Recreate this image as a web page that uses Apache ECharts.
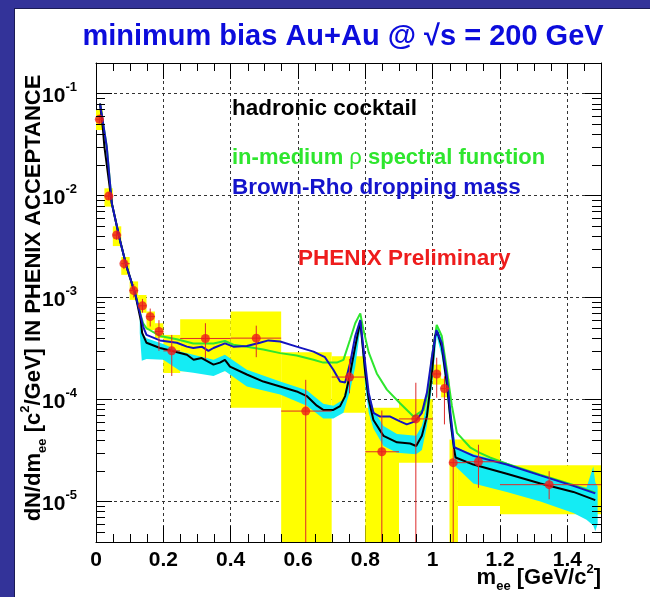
<!DOCTYPE html>
<html><head><meta charset="utf-8">
<script src="https://cdn.jsdelivr.net/npm/echarts@6/dist/echarts.min.js"></script>
<style>html,body{margin:0;padding:0;background:#fff}#c{width:650px;height:597px}</style>
</head><body><div id="c"></div><script>
// ---------------- data ----------------
const xMin = 0, xMax = 1.5, yMin = 4e-6, yMax = 0.2;

// PHENIX data points
const ptX = [0.010,0.038,0.061,0.083,0.112,0.138,0.161,0.187,0.225,0.325,0.476,0.623,0.753,0.849,0.950,1.012,1.035,1.061,1.136,1.346];
const ptY = [0.056,0.0099,0.0041,0.00215,0.00117,0.00083,0.00065,0.000465,0.00030,0.000397,0.00040,7.7e-5,1.66e-4,3.07e-5,6.45e-5,1.78e-4,1.28e-4,2.4e-5,2.45e-5,1.46e-5];
const errYLo = [0.051,0.0091,0.0037,0.0019,0.00100,0.00071,0.00052,0.00030,0.00017,0.00025,0.00026,1e-6,1.15e-4,1e-6,1e-6,1.04e-4,5.7e-5,1e-6,1.36e-5,1.05e-5];
const errYHi = [0.062,0.0108,0.0045,0.0024,0.00135,0.00097,0.00078,0.00060,0.00043,0.00056,0.00053,1.56e-4,2.5e-4,7.8e-5,1.46e-4,2.57e-4,1.69e-4,3.3e-5,3.6e-5,1.98e-5];
const binLo = [0.0,0.025,0.05,0.075,0.1,0.125,0.15,0.175,0.2,0.25,0.4,0.55,0.7,0.8,0.9,1.0,1.025,1.05,1.1,1.2];
const binHi = [0.02,0.05,0.075,0.1,0.125,0.15,0.175,0.2,0.25,0.4,0.55,0.7,0.8,0.9,1.0,1.025,1.05,1.1,1.2,1.5];

// systematic error boxes (yellow)
const sysXLo = [0.0,0.025,0.05,0.075,0.1,0.125,0.15,0.175,0.2,0.25,0.4,0.55,0.7,0.8,0.9,1.0,1.025,1.05,1.075,1.2];
const sysXHi = [0.02,0.05,0.075,0.1,0.125,0.15,0.175,0.2,0.25,0.4,0.55,0.7,0.8,0.9,1.0,1.025,1.05,1.075,1.2,1.5];
const sysYLo = [0.044,0.0078,0.0032,0.00167,0.00095,0.00071,0.00048,0.00040,0.000182,0.000189,8.3e-5,1e-6,7.4e-5,1e-6,2.4e-5,1.4e-4,1.05e-4,1e-6,9e-6,7.5e-6];
const sysYHi = [0.069,0.0118,0.0050,0.0025,0.00144,0.00106,0.00073,0.00056,0.00043,0.000612,0.00073,0.00029,0.000265,8.3e-5,1.01e-4,2.2e-4,1.6e-4,4.05e-5,4.05e-5,2.27e-5];

// hadronic cocktail (black)
const cockX = [0.012,0.02,0.025,0.047,0.071,0.091,0.116,0.133,0.137,0.15,0.19,0.23,0.27,0.29,0.314,0.349,0.368,0.383,0.398,0.448,0.497,0.547,0.596,0.626,0.656,0.675,0.705,0.725,0.74,0.755,0.77,0.785,0.8,0.81,0.824,0.854,0.894,0.933,0.951,0.968,0.983,0.998,1.007,1.014,1.027,1.042,1.054,1.064,1.068,1.121,1.22,1.32,1.418,1.483];
const cockY = [0.08,0.047,0.03,0.0084,0.00367,0.002,0.0011,0.0006,0.00045,0.00036,0.00032,0.000297,0.000275,0.000245,0.000255,0.00022,0.00023,0.000245,0.00021,0.000176,0.00015,0.000134,0.00012,0.000108,8.7e-5,7.9e-5,7.9e-5,8.6e-5,1.08e-4,1.8e-4,3.3e-4,5.8e-4,1.8e-4,1.0e-4,6.3e-5,4.4e-5,3.8e-5,3.7e-5,3.5e-5,4.4e-5,6.9e-5,1.8e-4,4.2e-4,4.6e-4,3.3e-4,1.45e-4,5.8e-5,3.2e-5,2.7e-5,2.3e-5,1.87e-5,1.5e-5,1.24e-5,1.03e-5];

// cocktail systematic band (cyan)
const bandX  = [0.13,0.136,0.15,0.2,0.25,0.289,0.349,0.383,0.448,0.547,0.626,0.675,0.705,0.735,0.755,0.77,0.785,0.8,0.81,0.824,0.854,0.894,0.951,0.968,0.983,0.998,1.012,1.027,1.042,1.054,1.064,1.068,1.121,1.22,1.32,1.418,1.457,1.477,1.483,1.49];
const bandHi = [6.5e-4,4.5e-4,4.0e-4,3.5e-4,2.95e-4,2.75e-4,2.45e-4,2.75e-4,1.96e-4,1.5e-4,1.23e-4,9.1e-5,8.7e-5,1.0e-4,2.1e-4,3.9e-4,6.5e-4,2.1e-4,1.23e-4,7.9e-5,5.5e-5,4.6e-5,4.4e-5,5.5e-5,9.1e-5,2.45e-4,5.2e-4,3.9e-4,1.8e-4,7.4e-5,4.4e-5,3.4e-5,2.9e-5,2.4e-5,1.8e-5,1.47e-5,1.37e-5,2.2e-5,1.54e-5,1.4e-5];
const bandLo = [4.5e-4,2.4e-4,2.5e-4,2.45e-4,1.9e-4,1.83e-4,1.7e-4,1.9e-4,1.34e-4,1.12e-4,8.7e-5,6.5e-5,6.5e-5,7.4e-5,1.23e-4,2.1e-4,4.9e-4,1.34e-4,7.4e-5,5.2e-5,3.5e-5,3.0e-5,2.9e-5,3.2e-5,5.5e-5,1.34e-4,4.2e-4,2.65e-4,1.17e-4,4.7e-5,2.6e-5,2.2e-5,1.5e-5,1.24e-5,1.0e-5,7.7e-6,6.6e-6,5.8e-6,5.1e-6,6e-6];

// Brown-Rho dropping mass (blue)
const brX = [0.012,0.032,0.047,0.071,0.091,0.116,0.131,0.14,0.15,0.19,0.24,0.27,0.289,0.314,0.334,0.349,0.383,0.408,0.448,0.487,0.512,0.547,0.596,0.646,0.68,0.705,0.725,0.74,0.755,0.77,0.785,0.8,0.81,0.824,0.844,0.874,0.903,0.923,0.948,0.968,0.983,0.998,1.011,1.027,1.042,1.054,1.064,1.082,1.121,1.22,1.32,1.418,1.483];
const brY = [0.08,0.03,0.0084,0.00367,0.002,0.0011,0.0007,0.00052,0.00043,0.00038,0.00036,0.00033,0.00032,0.00033,0.0003,0.00032,0.000355,0.00033,0.000335,0.00036,0.00038,0.00037,0.00033,0.000295,0.00026,0.000196,0.00015,0.000147,0.00023,0.00042,0.0006,0.00022,0.000116,7.4e-5,6.8e-5,6.8e-5,6.1e-5,5.7e-5,6.1e-5,7.4e-5,1.17e-4,2.65e-4,4.8e-4,3.6e-4,1.7e-4,6.8e-5,3.4e-5,3.2e-5,2.8e-5,2.3e-5,1.8e-5,1.42e-5,1.2e-5];

// in-medium rho spectral function (green)
const rhoX = [0.012,0.032,0.047,0.071,0.091,0.116,0.131,0.14,0.15,0.19,0.24,0.289,0.349,0.383,0.408,0.448,0.497,0.547,0.596,0.646,0.675,0.715,0.735,0.755,0.77,0.785,0.794,0.81,0.834,0.864,0.903,0.943,0.973,0.988,0.998,1.012,1.027,1.042,1.057,1.072,1.111,1.14,1.17,1.22,1.32,1.418,1.483];
const rhoY = [0.08,0.03,0.0084,0.00367,0.002,0.0011,0.0007,0.00056,0.0005,0.00042,0.00039,0.000355,0.000355,0.000375,0.000345,0.00033,0.00031,0.000285,0.00027,0.000245,0.00023,0.00023,0.000245,0.00039,0.00056,0.0007,0.00049,0.00029,0.00018,0.000125,9.2e-5,6.8e-5,7.9e-5,1.25e-4,2.65e-4,5.4e-4,4.2e-4,1.96e-4,8.7e-5,4.7e-5,3.4e-5,3.0e-5,2.7e-5,2.35e-5,1.83e-5,1.45e-5,1.22e-5];

const xMajorStep = 0.2;

// ---------------- chart ----------------
const FONT = '"Liberation Sans", Arial, Helvetica, sans-serif';
const zip = (a, b) => a.map((v, i) => [v, b[i]]);

const minorX = [];
for (let i = 1; i < 30; i++) if (i % 4 !== 0) minorX.push(i * 0.05);
const minorY = [];
for (let n = -6; n <= -1; n++) for (let k = 2; k <= 9; k++) { const v = k * Math.pow(10, n); if (v > yMin && v < yMax) minorY.push(v); }

const chart = echarts.init(document.getElementById('c'), null, {renderer: 'canvas'});

function ln(x1, y1, x2, y2, color, w) {
  return {type: 'line', shape: {x1, y1, x2, y2}, style: {stroke: color || '#000', lineWidth: w || 1}};
}

const yLabelRich = {
  b: {fontSize: 21, fontWeight: 'bold', fontFamily: FONT, color: '#000', lineHeight: 26, verticalAlign: 'bottom'},
  s: {fontSize: 13, fontWeight: 'bold', fontFamily: FONT, color: '#000', verticalAlign: 'top', lineHeight: 14}
};

const axisCommon = {
  axisLine: {show: true, onZero: false, lineStyle: {color: '#000', width: 1}},
  axisTick: {show: true, inside: true, length: 16, lineStyle: {color: '#000', width: 1}},
  minorTick: {show: false}
};

const titleRich = (color) => ({
  b: {fontSize: 22, fontWeight: 'bold', fontFamily: FONT, fill: color, color: color, lineHeight: 30, verticalAlign: 'middle'},
  sub: {fontSize: 13, fontWeight: 'bold', fontFamily: FONT, fill: color, color: color, lineHeight: 13, verticalAlign: 'bottom'},
  sup: {fontSize: 13, fontWeight: 'bold', fontFamily: FONT, fill: color, color: color, lineHeight: 13, verticalAlign: 'top'},
  g: {fontSize: 22, fontWeight: 'normal', fontFamily: FONT, fill: color, color: color, lineHeight: 30, verticalAlign: 'middle'}
});

const option = {
  animation: false,
  backgroundColor: '#ffffff',
  grid: {left: 96, top: 63, right: 49, bottom: 55, containLabel: false},
  xAxis: [
    Object.assign({}, axisCommon, {
      type: 'value', min: xMin, max: xMax, interval: xMajorStep, position: 'bottom',
      axisLabel: {show: true, showMaxLabel: false, margin: 8, color: '#000', fontSize: 21, fontWeight: 'bold', fontFamily: FONT},
      splitLine: {show: true, lineStyle: {color: '#333', type: [3, 3], width: 1}}
    }),
    Object.assign({}, axisCommon, {
      type: 'value', min: xMin, max: xMax, interval: xMajorStep, position: 'top',
      axisLabel: {show: false}, splitLine: {show: false}
    })
  ],
  yAxis: [
    Object.assign({}, axisCommon, {
      type: 'log', min: yMin, max: yMax, position: 'left',
      axisLabel: {show: true, showMinLabel: false, showMaxLabel: false, margin: 19,
        formatter: v => { const e = Math.round(Math.log10(v)); return '{b|10}{s|' + e + '}'; },
        rich: yLabelRich},
      splitLine: {show: true, lineStyle: {color: '#333', type: [3, 3], width: 1}}
    }),
    Object.assign({}, axisCommon, {
      type: 'log', min: yMin, max: yMax, position: 'right',
      axisLabel: {show: false}, splitLine: {show: false}
    })
  ],
  graphic: [
    {type: 'rect', shape: {x: 0, y: 0, width: 15, height: 597}, style: {fill: '#333399'}, z: 100},
    {type: 'rect', shape: {x: 0, y: 0, width: 650, height: 9}, style: {fill: '#333399'}, z: 100},
    {type: 'line', shape: {x1: 14.5, y1: 9, x2: 14.5, y2: 597}, style: {stroke: '#1b1b55', lineWidth: 1}, z: 101},
    {type: 'line', shape: {x1: 14, y1: 8.5, x2: 650, y2: 8.5}, style: {stroke: '#1b1b55', lineWidth: 1}, z: 101},
    {type: 'text', x: 343, y: 37, z: 100, style: {text: 'minimum bias Au+Au @ √s = 200 GeV', fill: '#0c0cdc', font: 'bold 29px ' + FONT, align: 'center', verticalAlign: 'middle'}},
    {type: 'text', x: 232, y: 109, z: 100, style: {text: 'hadronic cocktail', fill: '#000000', font: 'bold 22.5px ' + FONT, align: 'left', verticalAlign: 'middle'}},
    {type: 'text', x: 232, y: 158, z: 100, style: {text: '{b|in-medium }{g|ρ}{b| spectral function}', align: 'left', verticalAlign: 'middle', rich: titleRich('#2ee62e')}},
    {type: 'text', x: 232, y: 188, z: 100, style: {text: 'Brown-Rho dropping mass', fill: '#1414cc', font: 'bold 22.5px ' + FONT, align: 'left', verticalAlign: 'middle'}},
    {type: 'text', x: 298, y: 259, z: 100, style: {text: 'PHENIX Preliminary', fill: '#ee1c1c', font: 'bold 22.5px ' + FONT, align: 'left', verticalAlign: 'middle'}},
    {type: 'text', x: 601, y: 578, z: 100, style: {
      text: '{b|m}{sub|ee}{b| [GeV/c}{sup|2}{b|]}', align: 'right', verticalAlign: 'middle', rich: titleRich('#000')}},
    {type: 'text', x: 34, y: 298, rotation: Math.PI / 2, z: 100, style: {
      text: '{b|dN/dm}{sub|ee}{b| [c}{sup|2}{b|/GeV] IN PHENIX ACCEPTANCE}', align: 'center', verticalAlign: 'middle', rich: titleRich('#000')}}
  ],
  series: [
    { // yellow systematic boxes
      type: 'custom', coordinateSystem: 'cartesian2d', clip: true, z: 1, silent: true,
      data: sysXLo.map((v, i) => [v, sysXHi[i], sysYLo[i], sysYHi[i]]),
      encode: {x: [0, 1], y: [2, 3]},
      renderItem: (params, api) => {
        const p1 = api.coord([api.value(0), api.value(3)]);
        const p2 = api.coord([api.value(1), api.value(2)]);
        return {type: 'rect', shape: {x: p1[0], y: p1[1], width: p2[0] - p1[0], height: p2[1] - p1[1]}, style: {fill: '#ffff00'}};
      }
    },
    { // cyan band
      type: 'custom', coordinateSystem: 'cartesian2d', clip: true, z: 2, silent: true,
      data: [[bandX[0], bandHi[0]]],
      renderItem: (params, api) => {
        const pts = [];
        bandX.forEach((x, i) => pts.push(api.coord([x, bandHi[i]])));
        for (let i = bandX.length - 1; i >= 0; i--) pts.push(api.coord([bandX[i], bandLo[i]]));
        return {type: 'polygon', shape: {points: pts}, style: {fill: '#14ecf4'}};
      }
    },
    {type: 'line', name: 'in-medium rho', data: zip(rhoX, rhoY), symbol: 'none', z: 3, clip: true, lineStyle: {color: '#2ee62e', width: 2}},
    {type: 'line', name: 'cocktail', data: zip(cockX, cockY), symbol: 'none', z: 4, clip: true, lineStyle: {color: '#000000', width: 2}},
    {type: 'line', name: 'Brown-Rho', data: zip(brX, brY), symbol: 'none', z: 5, clip: true, lineStyle: {color: '#1414c0', width: 2}},
    { // error bars
      type: 'custom', coordinateSystem: 'cartesian2d', clip: true, z: 6, silent: true,
      data: ptX.map((v, i) => [v, ptY[i], binLo[i], binHi[i], errYLo[i], errYHi[i]]),
      encode: {x: 0, y: 1},
      renderItem: (params, api) => {
        const x = api.value(0), y = api.value(1);
        const a = api.coord([x, api.value(4)]), b = api.coord([x, api.value(5)]);
        const c = api.coord([api.value(2), y]), d = api.coord([api.value(3), y]);
        return {type: 'group', children: [
          ln(a[0], a[1], b[0], b[1], '#dd2a2a', 1),
          ln(c[0], c[1], d[0], d[1], '#dd2a2a', 1)
        ]};
      }
    },
    {type: 'scatter', name: 'PHENIX', data: zip(ptX, ptY), symbol: 'circle', symbolSize: 9, z: 7, itemStyle: {color: '#ee1c1c'}},
    { // minor ticks on the frame
      type: 'custom', coordinateSystem: 'cartesian2d', clip: false, z: 8, silent: true,
      data: [[xMin, yMin]],
      renderItem: (params, api) => {
        const ch = [];
        const yb = Math.round(api.coord([xMin, yMin])[1]);
        const yt = Math.round(api.coord([xMin, yMax])[1]);
        const xl = Math.round(api.coord([xMin, yMin])[0]);
        const xr = Math.round(api.coord([xMax, yMin])[0]);
        minorX.forEach(x => {
          const px = Math.round(api.coord([x, yMin])[0]) + 0.5;
          ch.push(ln(px, yb, px, yb - 8));
          ch.push(ln(px, yt, px, yt + 8));
        });
        minorY.forEach(y => {
          const py = Math.round(api.coord([xMin, y])[1]) + 0.5;
          ch.push(ln(xl, py, xl + 9, py));
          ch.push(ln(xr, py, xr - 9, py));
        });
        return {type: 'group', children: ch};
      }
    }
  ]
};
chart.setOption(option);
</script></body></html>
